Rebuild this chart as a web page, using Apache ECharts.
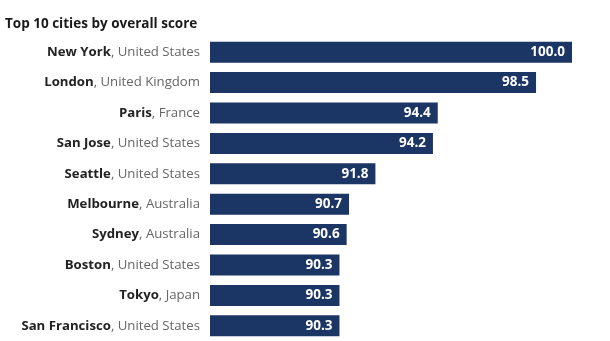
<!DOCTYPE html>
<html>
<head>
<meta charset="utf-8">
<script src="https://cdn.jsdelivr.net/npm/echarts@6/dist/echarts.min.js"></script>
<style>
html,body{margin:0;padding:0;background:#fff;}
#chart{width:610px;height:341px;}
</style>
</head>
<body>
<div id="chart"></div>
<script>
const cities = ["New York","London","Paris","San Jose","Seattle","Melbourne","Sydney","Boston","Tokyo","San Francisco"];
const countries = ["United States","United Kingdom","France","United States","United States","Australia","Australia","United States","Japan","United States"];
const scores = [100.0, 98.5, 94.4, 94.2, 91.8, 90.7, 90.6, 90.3, 90.3, 90.3];
const titleText = "Top 10 cities by overall score";

const chart = echarts.init(document.getElementById('chart'), null, {renderer:'canvas'});
const FONT = '"Open Sans", "Noto Sans", sans-serif';
const labels = cities.map((c,i)=>c + '|' + countries[i]);
chart.setOption({
  animation:false,
  title:{
    text:titleText,
    left:5, top:17, padding:0,
    textStyle:{fontFamily:FONT,fontSize:13.5,fontWeight:'bold',color:'#1a1a1a'}
  },
  grid:{left:210, width:362, top:37, height:307.2, containLabel:false},
  xAxis:{
    type:'value', min:84.9, max:100, show:false
  },
  yAxis:{
    type:'category', inverse:true, data:labels,
    axisLine:{show:false}, axisTick:{show:false}, splitLine:{show:false},
    axisLabel:{
      margin:10,
      formatter:function(v){const p=v.split('|');return '{c|'+p[0]+'}{n|, '+p[1]+'}';},
      rich:{
        c:{fontFamily:FONT,fontSize:13.2,fontWeight:'bold',color:'#222'},
        n:{fontFamily:FONT,fontSize:13.2,fontWeight:'normal',color:'#666'}
      }
    }
  },
  series:[{
    type:'bar',
    data:scores,
    barWidth:21,
    itemStyle:{color:'#1b3565'},
    label:{
      show:true, position:'insideRight', offset:[-2,0],
      formatter:function(p){return p.value.toFixed(1);},
      fontFamily:FONT, fontSize:13.5, fontWeight:'bold', color:'#fff'
    }
  }]
});
</script>
</body>
</html>
